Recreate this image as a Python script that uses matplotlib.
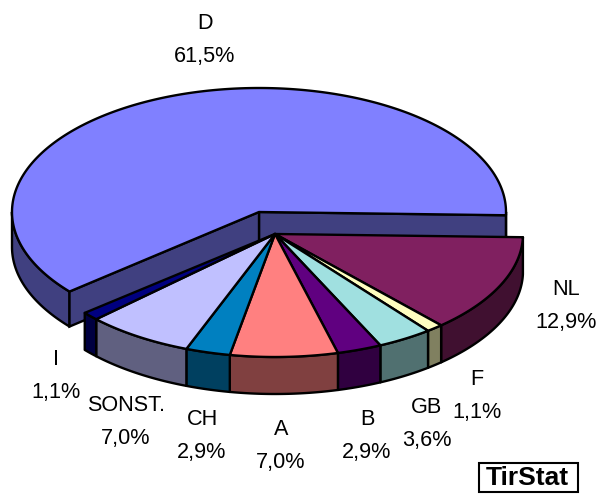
import numpy as np
import matplotlib
matplotlib.use("Agg")
import matplotlib.pyplot as plt
from matplotlib.patches import Polygon, Rectangle

plt.rcParams['font.family'] = ['Liberation Sans', 'DejaVu Sans']

categories = ["NL", "F", "GB", "B", "A", "CH", "SONST.", "I", "D"]
shares = [12.9, 1.1, 3.6, 2.9, 7.0, 2.9, 7.0, 1.1, 61.5]

top_colors = ["#802060", "#FFFFC0", "#A0E0E0", "#600080", "#FF8080",
              "#0080C0", "#C0C0FF", "#000080", "#8080FF"]

# label centres in pixels, same order as categories
label_pos = [(566, 306), (477, 396), (427, 424), (367, 436), (281, 446),
             (202, 436), (126, 422), (56, 376), (205, 40)]

START_ANGLE = 1.5
EDGE = "black"
LW = 1.7


def rim(cx, cy, rx, ry, t0, t1):
    t = np.radians(np.linspace(t0, t1, max(int(abs(t1 - t0)) * 2, 2)))
    return np.column_stack([cx + rx * np.cos(t), cy + ry * np.sin(t)])


def shade(color):
    return tuple(c * 0.5 for c in matplotlib.colors.to_rgb(color))


def draw_outer_wall(ax, cx, cy, rx, ry, depth, t0, t1, color):
    # only the front half of the rim can be seen
    t0, t1 = max(t0, 0), min(t1, 180)
    if t1 <= t0:
        return
    upper = rim(cx, cy, rx, ry, t0, t1)
    lower = upper[::-1] + [0, depth]
    ax.add_patch(Polygon(np.vstack([upper, lower]), facecolor=shade(color),
                         edgecolor=EDGE, lw=LW, joinstyle="round"))


def draw_cut_wall(ax, cx, cy, rx, ry, depth, t, color):
    p = rim(cx, cy, rx, ry, t, t)[0]
    pts = [(cx, cy), p, p + [0, depth], (cx, cy + depth)]
    ax.add_patch(Polygon(pts, facecolor=shade(color), edgecolor=EDGE, lw=LW))


def draw_top(ax, cx, cy, rx, ry, t0, t1, color):
    pts = np.vstack([[(cx, cy)], rim(cx, cy, rx, ry, t0, t1)])
    ax.add_patch(Polygon(pts, facecolor=color, edgecolor=EDGE, lw=LW,
                         joinstyle="round"))


fig = plt.figure(figsize=(6, 4.94), dpi=100)
ax = fig.add_axes([0, 0, 1, 1])
ax.set_xlim(0, 600)
ax.set_ylim(494, 0)
ax.axis("off")

edges = START_ANGLE + np.concatenate([[0], np.cumsum(shares)]) * 3.6

# exploded big slice goes in first, the rest sits in front of it
t0, t1 = edges[-2], edges[-1]
big = (259, 212, 247, 124)
draw_outer_wall(ax, *big, 35, t0, t1, top_colors[-1])
draw_outer_wall(ax, *big, 35, t0 - 360, t1 - 360, top_colors[-1])
draw_cut_wall(ax, *big, 35, t1, top_colors[-1])
draw_cut_wall(ax, *big, 35, t0, top_colors[-1])
draw_top(ax, *big, t0, t1, top_colors[-1])

small = (275, 234, 248, 123)
for i in range(len(shares) - 1):
    draw_outer_wall(ax, *small, 37, edges[i], edges[i + 1], top_colors[i])
for i in range(len(shares) - 1):
    draw_top(ax, *small, edges[i], edges[i + 1], top_colors[i])

for name, share, (x, y) in zip(categories, shares, label_pos):
    value = f"{share:.1f}%".replace(".", ",")
    ax.text(x, y, f"{name}\n{value}", ha="center", va="center", fontsize=15.6,
            linespacing=1.7, color="black")

ax.add_patch(Rectangle((479, 463), 99, 29, facecolor="white", edgecolor=EDGE, lw=1.5))
ax.text(527.5, 477.5, "TirStat", ha="center", va="center", fontsize=19,
        fontweight="bold", color="black")

fig.savefig("out.png", dpi=100)
